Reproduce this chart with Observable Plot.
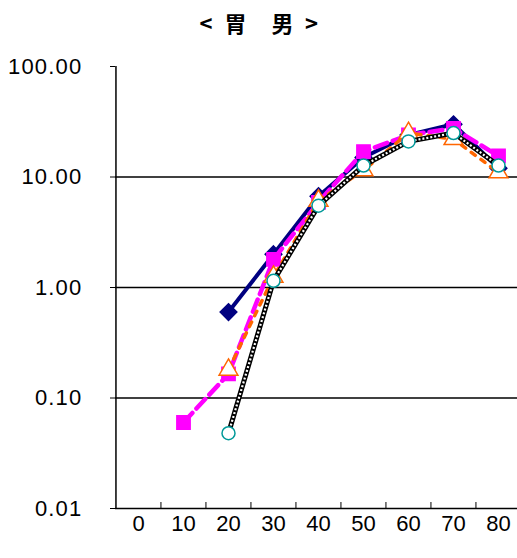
<!DOCTYPE html>
<html>
<head>
<meta charset="utf-8">
<script src="https://cdn.jsdelivr.net/npm/d3@7"></script>
<script src="https://cdn.jsdelivr.net/npm/@observablehq/plot@0.6"></script>
<style>
  html, body { margin: 0; padding: 0; background: #fff; }
  #wrap { position: relative; width: 517px; height: 558px; overflow: hidden; }
  .t { position: absolute; top: 8px; transform: translateX(-50%);
       font-family: "Noto Sans CJK JP", "Liberation Sans", sans-serif; font-weight: bold; font-size: 22px; line-height: 28px; color: #000; }
  #chart { position: absolute; left: 0; top: 0; }
</style>
</head>
<body>
<div id="wrap">
  <div id="chart"></div>
  <div id="title"><span class="t" style="left:206px">&lt;</span><span class="t" style="left:235.5px">胃</span><span class="t" style="left:282.5px">男</span><span class="t" style="left:311.5px">&gt;</span></div>
</div>
<script>
const ages = ["0", "10", "20", "30", "40", "50", "60", "70", "80"];
const yTicks = [0.01, 0.1, 1, 10, 100];
const gridValues = [0.1, 1, 10];

const seriesNavy    = [null, null, 0.6, 2.0, 6.7, 15, 24, 30, 12];
const seriesMagenta = [null, 0.06, 0.165, 1.8, 5.9, 17, 24, 27.5, 15.5];
const seriesOrange  = [null, null, 0.18, 1.25, 6.1, 11.5, 25, 22, 11];
const seriesBlack   = [null, null, 0.048, 1.15, 5.5, 12.7, 21, 25, 12.7];

const rows = s => ages.map((a, i) => ({age: a, v: s[i]})).filter(d => d.v != null);
const rN = rows(seriesNavy), rM = rows(seriesMagenta), rO = rows(seriesOrange), rB = rows(seriesBlack);

const chart = Plot.plot({
  width: 517,
  height: 558,
  marginLeft: 115,
  marginRight: 0,
  marginTop: 66,
  marginBottom: 50,
  style: {fontFamily: "'Liberation Sans', Arial, sans-serif", background: "white"},
  x: {type: "point", domain: ages, range: [115, 521], padding: 0.5, axis: null},
  y: {type: "log", domain: [0.01, 100], range: [508, 66], axis: null},
  marks: [
    Plot.text(yTicks, {y: d => d, text: d => d.toFixed(2), frameAnchor: "left", dx: -33, textAnchor: "end", fontSize: 22, fill: "#000"}),
    Plot.text(ages, {x: d => d, y: 0.01, text: d => d, dy: 15, fontSize: 22, fill: "#000"}),
    Plot.ruleY(gridValues, {stroke: "#000", strokeWidth: 1.5}),
    Plot.ruleY([0.01], {stroke: "#000", strokeWidth: 1.5}),
    Plot.ruleX(["0"], {dx: -22.55, stroke: "#000", strokeWidth: 1.5}),
    Plot.tickX(ages.slice(1), {x: d => d, dx: -22.55, insetTop: 436, stroke: "#000", strokeWidth: 1}),
    Plot.axisY({ticks: yTicks, tickSize: 5, tickFormat: () => "", label: null, stroke: "#000"}),
    // navy series
    Plot.line(rN, {x: "age", y: "v", stroke: "#000080", strokeWidth: 4}),
    Plot.dot(rN, {x: "age", y: "v", symbol: "diamond2", r: 7.5, fill: "#000080", stroke: "#000080"}),
    // magenta series
    Plot.line(rM, {x: "age", y: "v", stroke: "#FF00FF", strokeWidth: 4.5, strokeDasharray: "13,6"}),
    Plot.dot(rM, {x: "age", y: "v", symbol: "square", r: 7.5, fill: "#FF00FF", stroke: "#FF00FF"}),
    // orange series
    Plot.line(rO, {x: "age", y: "v", stroke: "#FF6600", strokeWidth: 3.5, strokeDasharray: "5,7"}),
    Plot.dot(rO, {x: "age", y: "v", symbol: "triangle", r: 7, fill: "white", stroke: "#FF6600", strokeWidth: 1.5}),
    // black chain series
    Plot.line(rB, {x: "age", y: "v", stroke: "#000", strokeWidth: 5}),
    Plot.line(rB, {x: "age", y: "v", stroke: "#fff", strokeWidth: 2.2, strokeDasharray: "2,2", strokeLinecap: "butt"}),
    Plot.dot(rB, {x: "age", y: "v", symbol: "circle", r: 6.5, fill: "white", stroke: "#009999", strokeWidth: 1.5})
  ]
});
document.getElementById("chart").appendChild(chart);
const textGroups = chart.querySelectorAll('g[aria-label="text"]');
if (textGroups[0]) textGroups[0].style.letterSpacing = "1.2px";
</script>
</body>
</html>
